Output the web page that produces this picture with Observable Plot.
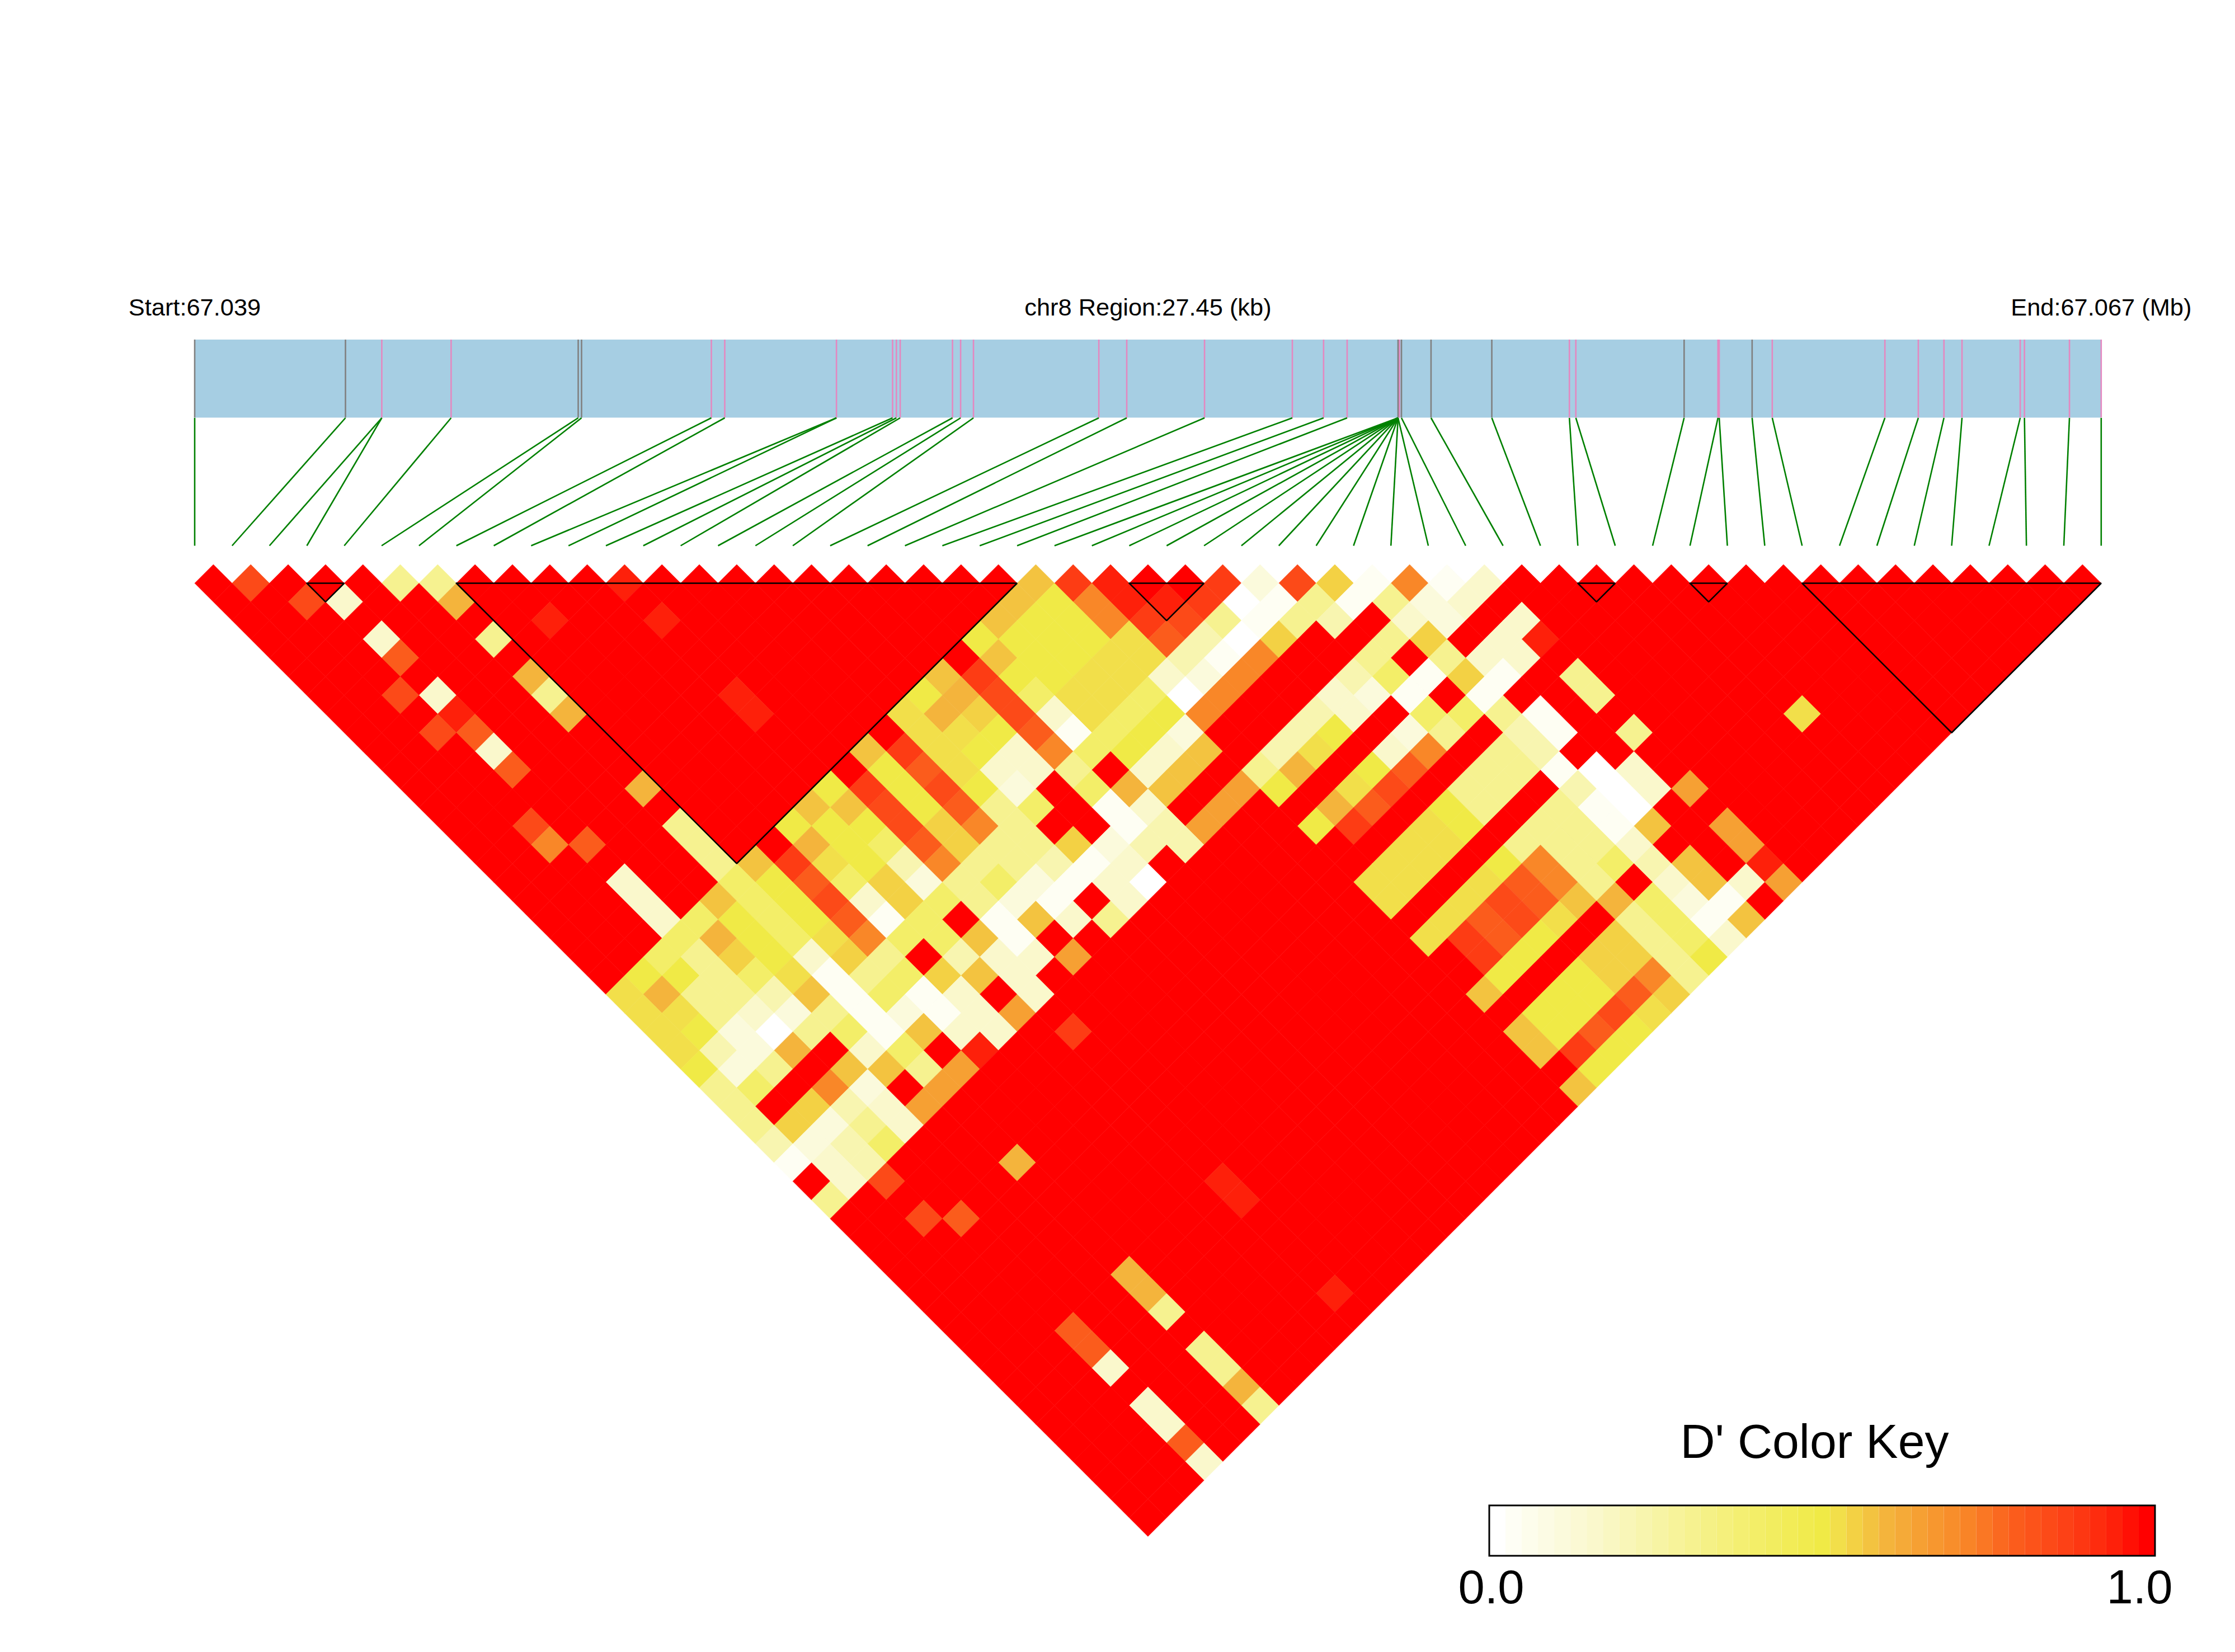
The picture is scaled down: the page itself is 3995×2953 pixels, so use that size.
<!DOCTYPE html>
<html>
<head>
<meta charset="utf-8">
<script src="https://cdn.jsdelivr.net/npm/d3@7"></script>
<script src="https://cdn.jsdelivr.net/npm/@observablehq/plot@0.6"></script>
<style>html,body{margin:0;padding:0;background:#fff}svg{display:block}</style>
</head>
<body>
<div id="chart"></div>
<script>
// D' values: letter code -> value. Anything not listed in a row below reads as 1.0 (solid red).
const codeLetters = ["O","a","d","e","f","g","h","j","k","K","l","m","n","o","p","P","q","r"];
const codeValues  = [0,.03,.1,.15,.22,.3,.4,.5,.525,.55,.575,.6,.65,.72,.8,.85,.89,.95];
// colour ramp read from the key
const rampValues = [0,.03,.1,.15,.22,.3,.4,.5,.525,.55,.575,.6,.65,.72,.8,.85,.89,.95,1];
const rampColors = ["#FFFFFF","#FEFEF3","#FBFADC","#FAF8CC","#F8F5B0","#F6F290","#F3EE68","#F0EA46","#F2DF4A","#F3D144","#F3C340","#F4B43C","#F6A033","#F98728","#FB5C1C","#FC4A18","#FD3C14","#FE200A","#FF0000"];

// one entry per row of the triangle (row = SNP distance); "<position><code>", position = i + j
const rowCells = [
"3P 11g 13g 23r 45l 47q 49r 55q 57d 59P 61K 63a 65o 67a 69e",
"6P 8e 14m 44l 46j 48o 50r 52r 54q 56O 58a 60g 62a 64g 66d 68e",
"19r 25r 43l 45j 47j 49o 51q 53P 55g 57a 59g 61f 65e 67d 71e",
"10e 16g 42j 44j 46j 48j 50k 52p 54f 56O 58K 64g 66K 70e 72r",
"11p 43l 45j 47j 49k 51k 53f 55a 57o 63g 67g 69e 71e",
"18m 40l 42q 44j 46j 48k 50k 52e 54d 56o 62f 64h 66a 68K 70a 74g",
"11P 13e 19g 29r 39j 41m 43P 45h 47k 49k 51h 53O 55o 61e 63d 65a 69a 75g",
"14r 20m 30r 38k 40m 42K 44P 46e 48k 50h 52j 54o 60f 62e 66h 68h 70g 72a 86k",
"13P 15p 39k 41k 43j 45p 47a 49h 51j 53d 59f 61j 65d 67g 71f 73a 77g",
"16e 36l 38q 40k 42j 44e 46o 48h 50j 52e 54l 58f 60k 64e 66o 70g 72f",
"17p 37j 39p 41k 43e 45e 47g 51e 53l 57g 59m 63j 65p 69g 71g 73a 75O 77e",
"24m 34j 36q 38j 40P 42j 44d 48h 50m 52l 56n 58j 62k 64P 68g 70g 74f 76O 78e 80n",
"33l 35l 37P 39j 41p 43g 45h 49a 51e 55n 61m 63p 67j 69g 73g 75a 77O",
"18P 26g 32j 34j 36j 38P 40K 42o 44g 50a 52f 54n 60j 62q 66k 68j 72g 74g 76a 78l 82n",
"19o 21p 27g 33m 35j 37h 39p 41K 43g 45g 47K 49d 51f 53f 65k 67k 71g 73g 75g 77e 83n",
"28g 30l 32q 34k 36j 38f 40o 42g 44g 46f 48a 50e 64k 66k 70j 72o 74g 76h 78f 80l 84r",
"23e 29h 31j 33p 35h 37K 39d 41g 43h 45d 47a 49e 51O 63k 65k 69k 71p 73o 75g 79e 81l 83e 85n",
"24e 28l 30h 32j 34P 36e 38K 40h 42g 44d 46a 50e 64k 68k 70P 72p 74l 76m 78h 80d 82a",
"25e 27h 29j 31h 33j 35p 37a 39h 43a 45l 47e 49g 67k 69p 71P 73k 77g 79h 81a 83l",
"26h 28m 30j 32h 34k 36o 38h 40h 42l 44a 66k 68q 70p 72j 76K 78g 80h 82e",
"25h 27g 29K 31j 33e 35K 37g 41f 43e 45e 47n 69q 71j 75K 77K 79g 81j",
"24j 26j 28g 30h 32k 34a 36g 38h 40K 42l 44e 70j 74j 76K 78o 80g",
"23k 25m 27g 29g 31f 33l 35a 37h 39a 41e 45e 69l 73j 75j 77p 79K",
"24k 26k 28g 30e 32d 34g 36a 38d 40a 42e 44n 72j 74j 76P 78k",
"25k 27j 29d 31O 33g 35h 37a 39l 41e 43e 47q 71l 73j 75p 77j",
"26k 28f 30d 32m 36e 38h 42r 72l 74q 76j",
"27j 29d 31g 35l 37l 39g 41n 75j",
"28g 30h 34o 36d 40n 74l",
"29g 33K 35f 37e 39n",
"30g 32K 34d 36g 38e",
"31f 33d 35f 37h",
"32a 34e 36f 44m",
"35e 37P 55r",
"34g 56r",
"39P 41p",
"","",
"50m",
"51m 61r",
"52g",
"47p",
"48p 54g",
"49e 55g",
"56m",
"51e 57g",
"52e",
"53p",
"54e",
"","",""
];

// SNP positions along the region, kb from the start
const snpKb = [0,2.171,2.694,2.694,3.692,5.522,5.570,7.439,7.632,9.240,9.240,10.048,10.103,10.158,10.911,11.028,11.213,13.018,13.420,14.540,15.804,16.254,16.593,17.326,17.326,17.326,17.326,17.326,17.326,17.326,17.326,17.326,17.326,17.326,17.375,17.801,18.676,19.793,19.886,21.445,21.932,21.950,22.424,22.714,24.336,24.817,25.186,25.446,26.284,26.345,26.993,27.45];
const greyKb = [0,2.171,5.522,5.570,17.326,17.375,17.801,18.676,21.445,22.424];
const extraPinkKb = [17.345];
const regionKb = 27.45;
// LD blocks: first and last SNP index
const blockFirst = [3,7,25,37,40,43];
const blockLast  = [4,22,27,38,41,51];

const labelStart = "Start:67.039";
const labelMiddle = "chr8 Region:27.45 (kb)";
const labelEnd = "End:67.067 (Mb)";
const keyTitle = "D' Color Key";
const keyTickLow = "0.0";
const keyTickHigh = "1.0";
const keyLevels = 41;

// ---- build tables
const codeMap = new Map(codeLetters.map((c, i) => [c, codeValues[i]]));
const nSnp = snpKb.length;
const cells = [];
rowCells.forEach((text, idx) => {
  const r = idx + 1, read = new Map();
  for (const m of text.matchAll(/(\d+)([A-Za-z])/g)) read.set(+m[1], codeMap.get(m[2]));
  for (let a = r; a <= 2 * (nSnp - 1) - r; a += 2) cells.push({a, r, v: read.has(a) ? read.get(a) : 1});
});

// layout: pixel <-> chart units
const W = 3995, H = 2953, half = 33.41, left = 347.5, rowOne = 1042;
const ax = px => (px - left) / half;
const ry = px => (px - rowOne) / half + 1;
const kbToA = kb => kb / regionKb * 2 * (nSnp - 1);
const A_MAX = 2 * (nSnp - 1);

const links = snpKb.map((kb, k) => ({from: kbToA(kb), to: 2 * k}));
const uniqueKb = [...new Set(snpKb)];
const isGrey = kb => greyKb.includes(kb);

const blocks = blockFirst.flatMap((p, i) => {
  const q = blockLast[i];
  return [[2*p,1],[2*q,1],[p+q,1+q-p],[2*p,1]].map(([a,r]) => ({a, r, b: i}));
});

const keyX0 = 2662, keyX1 = 3852, keyY0 = 2691, keyY1 = 2781;
const keyStep = (keyX1 - keyX0) / keyLevels;
const keyCells = d3.range(keyLevels).map(i => ({
  x1: ax(keyX0 + i * keyStep), x2: ax(keyX0 + (i + 1) * keyStep), v: i / (keyLevels - 1)
}));

const diamond = {draw(ctx, size) {
  const s = Math.sqrt(size / Math.PI);
  ctx.moveTo(0, -s); ctx.lineTo(s, 0); ctx.lineTo(0, s); ctx.lineTo(-s, 0); ctx.closePath();
}};
const font = "Liberation Sans, Arial, sans-serif";
const ruleWidth = 2.6;

const chart = Plot.plot({
  width: W, height: H,
  marginTop: 0, marginRight: 0, marginBottom: 0, marginLeft: 0,
  style: {background: "#fff"},
  x: {domain: [ax(0), ax(W)], range: [0, W], axis: null},
  y: {domain: [ry(0), ry(H)], range: [0, H], axis: null},
  color: {type: "linear", domain: rampValues, range: rampColors, interpolate: "rgb"},
  marks: [
    // gene track
    Plot.rect([0], {x1: 0, x2: A_MAX, y1: ry(607), y2: ry(746.5), fill: "#A6CEE3", inset: 0}),
    Plot.ruleX(uniqueKb.filter(k => !isGrey(k)).concat(extraPinkKb), {x: kbToA, y1: ry(607), y2: ry(746.5), stroke: "#E488C0", strokeWidth: ruleWidth}),
    Plot.ruleX(uniqueKb.filter(isGrey), {x: kbToA, y1: ry(607), y2: ry(746.5), stroke: "#808080", strokeWidth: ruleWidth}),
    // connectors
    Plot.link(links, {x1: "from", x2: "to", y1: ry(746.5), y2: ry(975), stroke: "#008000", strokeWidth: ruleWidth}),
    // D' triangle
    Plot.dot(cells, {x: "a", y: "r", r: half, symbol: diamond, fill: "v", stroke: "v", strokeWidth: 0.6}),
    // LD blocks
    Plot.line(blocks, {x: "a", y: "r", z: "b", stroke: "#000", strokeWidth: 2.6, strokeLinejoin: "miter", fill: "none"}),
    // header text
    Plot.text([labelStart], {x: 0, y: ry(563), text: d => d, fontFamily: font, fontSize: 43.4, textAnchor: "middle", lineAnchor: "bottom", fill: "#000"}),
    Plot.text([labelMiddle], {x: A_MAX / 2, y: ry(563), text: d => d, fontFamily: font, fontSize: 43.4, textAnchor: "middle", lineAnchor: "bottom", fill: "#000"}),
    Plot.text([labelEnd], {x: A_MAX, y: ry(563), text: d => d, fontFamily: font, fontSize: 43.4, textAnchor: "middle", lineAnchor: "bottom", fill: "#000"}),
    // colour key
    Plot.rect(keyCells, {x1: "x1", x2: "x2", y1: ry(keyY0), y2: ry(keyY1), fill: "v", inset: 0}),
    Plot.rect([0], {x1: ax(keyX0), x2: ax(keyX1), y1: ry(keyY0), y2: ry(keyY1), fill: "none", stroke: "#000", strokeWidth: 3}),
    Plot.text([keyTitle], {x: ax(3243), y: ry(2605), text: d => d, fontFamily: font, fontSize: 86, textAnchor: "middle", lineAnchor: "bottom", fill: "#000"}),
    Plot.text([keyTickLow], {x: ax(2665), y: ry(2865), text: d => d, fontFamily: font, fontSize: 85, textAnchor: "middle", lineAnchor: "bottom", fill: "#000"}),
    Plot.text([keyTickHigh], {x: ax(3824), y: ry(2865), text: d => d, fontFamily: font, fontSize: 85, textAnchor: "middle", lineAnchor: "bottom", fill: "#000"})
  ]
});
document.getElementById("chart").append(chart);
</script>
</body>
</html>
